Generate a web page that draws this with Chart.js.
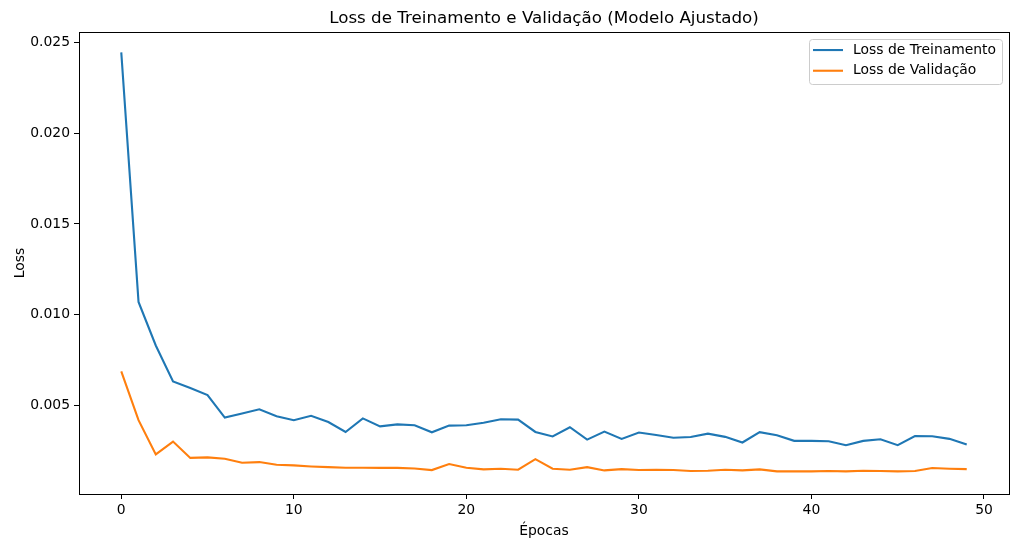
<!DOCTYPE html>
<html>
<head>
<meta charset="utf-8">
<script src="https://cdn.jsdelivr.net/npm/chart.js@4/dist/chart.umd.min.js"></script>
<style>
    html, body { margin: 0; padding: 0; background: #ffffff; }
    #wrap { width: 1018px; height: 549px; position: relative; }
</style>
</head>
<body>
<div id="wrap"><canvas id="lossChart"></canvas></div>
<script>
// 1. Data
const epochs = Array.from({ length: 50 }, (_, i) => i);
const trainLoss = [
    0.02446, 0.01070, 0.00830, 0.00632, 0.00595, 0.00556, 0.00432, 0.00455, 0.00478, 0.00440,
    0.00418, 0.00442, 0.00408, 0.00353, 0.00428, 0.00384, 0.00395, 0.00390, 0.00351, 0.00388,
    0.00390, 0.00404, 0.00423, 0.00421, 0.00353, 0.00328, 0.00379, 0.00311, 0.00355, 0.00315,
    0.00350, 0.00336, 0.00321, 0.00325, 0.00344, 0.00326, 0.00295, 0.00352, 0.00335, 0.00304,
    0.00304, 0.00302, 0.00280, 0.00304, 0.00313, 0.00280, 0.00331, 0.00329, 0.00315, 0.00284
];
const valLoss = [
    0.00687, 0.00418, 0.00229, 0.00300, 0.00210, 0.00213, 0.00205, 0.00183, 0.00187, 0.00172,
    0.00169, 0.00163, 0.00159, 0.00156, 0.00156, 0.00155, 0.00155, 0.00152, 0.00143, 0.00176,
    0.00156, 0.00147, 0.00150, 0.00145, 0.00203, 0.00150, 0.00145, 0.00159, 0.00141, 0.00148,
    0.00143, 0.00145, 0.00143, 0.00138, 0.00139, 0.00145, 0.00141, 0.00147, 0.00136, 0.00136,
    0.00136, 0.00138, 0.00136, 0.00139, 0.00138, 0.00136, 0.00138, 0.00154, 0.00150, 0.00148
];
const xTicks = [0, 10, 20, 30, 40, 50];
const yTicks = [0.005, 0.010, 0.015, 0.020, 0.025];
const seriesLabels = ['Loss de Treinamento', 'Loss de Validação'];

const FONT = 'DejaVu Sans';

// 2. Frame (top/right spines) + matplotlib-style legend box
const framePlugin = {
    id: 'frame',
    afterDraw(chart) {
        const { ctx, chartArea: a } = chart;
        ctx.save();
        ctx.strokeStyle = '#000000';
        ctx.lineWidth = 1;
        ctx.strokeRect(Math.round(a.left) + 0.5, Math.round(a.top) + 0.5,
            Math.round(a.right - a.left), Math.round(a.bottom - a.top));

        // legend
        const w = 193, h = 45;
        const lx = a.right - 7 - w, ly = a.top + 7;
        ctx.fillStyle = 'rgba(255,255,255,0.8)';
        ctx.strokeStyle = '#cccccc';
        ctx.beginPath();
        ctx.roundRect(Math.round(lx) + 0.5, Math.round(ly) + 0.5, w, h, 3);
        ctx.fill();
        ctx.stroke();
        ctx.font = '13.9px "' + FONT + '"';
        ctx.textBaseline = 'middle';
        ctx.fillStyle = '#000000';
        chart.data.datasets.forEach((ds, i) => {
            const y = ly + 11 + i * 20.7;
            ctx.strokeStyle = ds.borderColor;
            ctx.lineWidth = ds.borderWidth;
            ctx.beginPath();
            ctx.moveTo(lx + 4, y);
            ctx.lineTo(lx + 34, y);
            ctx.stroke();
            ctx.fillText(ds.label, lx + 44, y);
        });
        ctx.restore();
    }
};

// 3. Chart
const ctx = document.getElementById('lossChart');
new Chart(ctx, {
    type: 'line',
    data: {
        labels: epochs,
        datasets: [
            {
                label: seriesLabels[0],
                data: trainLoss,
                borderColor: '#1f77b4',
                backgroundColor: '#1f77b4',
                borderWidth: 2.1,
                pointRadius: 0,
                tension: 0,
                fill: false
            },
            {
                label: seriesLabels[1],
                data: valLoss,
                borderColor: '#ff7f0e',
                backgroundColor: '#ff7f0e',
                borderWidth: 2.1,
                pointRadius: 0,
                tension: 0,
                fill: false
            }
        ]
    },
    options: {
        responsive: true,
        maintainAspectRatio: false,
        animation: false,
        devicePixelRatio: 1,
        layout: { padding: { top: 0, left: 0, right: 9, bottom: 0 } },
        plugins: {
            legend: { display: false },
            tooltip: { enabled: false },
            title: {
                display: true,
                fullSize: false,
                text: 'Loss de Treinamento e Validação (Modelo Ajustado)',
                color: '#000000',
                font: { family: FONT, size: 16.7, weight: 'normal' },
                padding: { top: 9, bottom: 3 }
            }
        },
        scales: {
            x: {
                type: 'linear',
                min: -2.45,
                max: 51.45,
                afterBuildTicks: s => { s.ticks = xTicks.map(v => ({ value: v })); },
                afterFit: s => { s.height = 55; },
                grid: { display: true, drawOnChartArea: false, drawTicks: true, tickLength: 5, color: '#000000', tickColor: '#000000' },
                border: { display: true, color: '#000000', width: 1 },
                ticks: { color: '#000000', padding: 3, maxRotation: 0, font: { family: FONT, size: 13.9 } },
                title: { display: true, text: 'Épocas', color: '#000000', font: { family: FONT, size: 13.9 }, padding: { top: 0, bottom: 9 } }
            },
            y: {
                type: 'linear',
                min: 0.00011,
                max: 0.02558,
                afterBuildTicks: s => { s.ticks = yTicks.map(v => ({ value: v })); },
                afterFit: s => { s.width = 79; },
                grid: { display: true, drawOnChartArea: false, drawTicks: true, tickLength: 5, color: '#000000', tickColor: '#000000' },
                border: { display: true, color: '#000000', width: 1 },
                ticks: { color: '#000000', padding: 4, font: { family: FONT, size: 13.9 }, callback: v => v.toFixed(3) },
                title: { display: true, text: 'Loss', color: '#000000', font: { family: FONT, size: 13.9 }, padding: { top: 12, bottom: 0 } }
            }
        }
    },
    plugins: [framePlugin]
});
</script>
</body>
</html>
